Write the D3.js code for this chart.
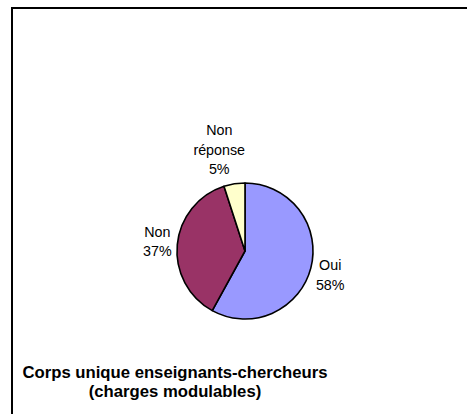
<!DOCTYPE html>
<html>
<head>
<meta charset="utf-8">
<script src="https://cdn.jsdelivr.net/npm/d3@7"></script>
<style>
  html, body { margin: 0; padding: 0; background: #fff; }
  svg { display: block; }
</style>
</head>
<body>
<svg id="chart" width="467" height="414"></svg>
<script>
// ---- data ----
const categories = ["Oui", "Non", "Non réponse"];
const labelLines = [["Oui"], ["Non"], ["Non", "réponse"]];
const values = [58, 37, 5];
const colors = ["#9999FF", "#993366", "#FFFFCC"];
const titleLines = ["Corps unique enseignants-chercheurs", "(charges modulables)"];

// ---- layout ----
const W = 467, H = 414;
const cx = 245, cy = 251, R = 68;
const labelR = 88;
const lineH = 19.5;
const labelNudge = [[0, 2], [0, -1], [-12, -14.5]];

const svg = d3.select("#chart");

// frame
svg.append("rect")
  .attr("x", 12).attr("y", 8)
  .attr("width", 480).attr("height", 450)
  .attr("fill", "none").attr("stroke", "#000").attr("stroke-width", 2);

const data = categories.map((c, i) => ({ cat: c, value: values[i], color: colors[i], lines: labelLines[i] }));

const pie = d3.pie().sort(null).value(d => d.value).startAngle(0).endAngle(2 * Math.PI);
const arcs = pie(data);
const arc = d3.arc().innerRadius(0).outerRadius(R);
const labelArc = d3.arc().innerRadius(labelR).outerRadius(labelR);

const g = svg.append("g").attr("transform", `translate(${cx},${cy})`);

g.selectAll("path.slice")
  .data(arcs)
  .join("path")
  .attr("class", "slice")
  .attr("d", arc)
  .attr("fill", d => d.data.color)
  .attr("stroke", "#000")
  .attr("stroke-width", 1.6)
  .attr("stroke-linejoin", "round");

g.selectAll("text.lbl")
  .data(arcs)
  .join("text")
  .attr("class", "lbl")
  .attr("font-family", "Liberation Sans, Arial, sans-serif")
  .attr("font-size", 14.3)
  .attr("fill", "#000")
  .attr("text-anchor", "middle")
  .each(function (d, i) {
    const [lx, ly] = labelArc.centroid(d);
    const x = lx + labelNudge[i][0];
    const y = ly + labelNudge[i][1];
    const lines = d.data.lines.concat([d.data.value + "%"]);
    const n = lines.length;
    const t = d3.select(this);
    lines.forEach((s, k) => {
      t.append("tspan")
        .attr("x", x)
        .attr("y", y + (k - (n - 1) / 2) * lineH)
        .attr("dy", "0.35em")
        .text(s);
    });
  });

// title
const title = svg.append("text")
  .attr("font-family", "Liberation Sans, Arial, sans-serif")
  .attr("font-size", 16.7)
  .attr("font-weight", "bold")
  .attr("fill", "#000")
  .attr("text-anchor", "middle");
titleLines.forEach((s, k) => {
  title.append("tspan").attr("x", 175).attr("y", 378 + k * 19).text(s);
});
</script>
</body>
</html>
